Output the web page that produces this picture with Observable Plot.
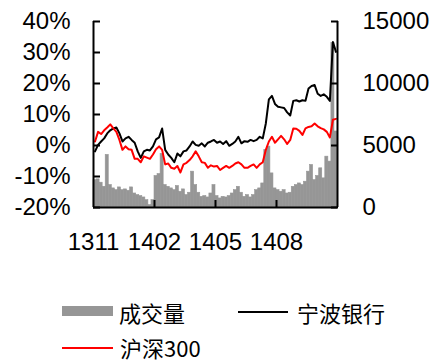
<!DOCTYPE html>
<html><head><meta charset="utf-8">
<script src="https://cdn.jsdelivr.net/npm/d3@7"></script>
<script src="https://cdn.jsdelivr.net/npm/@observablehq/plot@0.6"></script>
<style>
body{margin:0;background:#fff;}
#wrap{position:relative;width:430px;height:362px;}
.leg{position:absolute;font-family:"Noto Sans CJK SC","Noto Sans",sans-serif;font-size:22px;line-height:22px;color:#000;white-space:nowrap;}
.sw{position:absolute;}
</style></head><body><div id="wrap"></div>
<script>
// 宁波银行 relative change (%)
const bank = [-1.9,0.2,1.3,2.3,3.9,4.9,5.5,5.8,3.9,1.3,2.3,2.8,1.8,0.9,-1.9,-4.0,-1.9,-1.4,-1.6,-0.3,
2.0,2.6,5.5,-1.4,-2.9,-4.0,-5.4,-2.6,-3.5,-1.9,-1.6,-0.3,1.3,0.2,-0.1,0.7,-0.3,0.9,1.3,1.8,
0.9,1.3,0.5,1.4,-0.1,0.5,1.3,2.8,0.7,1.4,1.2,1.8,1.4,1.8,2.8,2.3,7.1,14.9,16.0,13.4,
12.5,12.3,12.1,10.7,9.7,14.4,14.6,14.2,14.6,14.4,18.4,19.2,19.5,16.7,16.0,16.5,15.7,14.4,33.4,30.2];
// 沪深300 relative change (%)
const hs300 = [1.3,4.4,3.7,4.9,5.8,6.8,5.5,4.4,1.8,-1.4,-0.3,-1.2,-1.4,-4.3,-4.3,-5.4,-3.5,-3.9,-4.3,-2.9,
-1.2,-0.3,-1.4,-6.1,-5.8,-7.2,-7.5,-6.6,-8.7,-6.1,-5.6,-4.7,-3.5,-1.9,-3.5,-5.4,-5.6,-7.2,-6.4,-6.8,
-6.6,-7.9,-7.2,-6.6,-7.2,-6.6,-5.8,-5.4,-6.1,-7.2,-7.2,-6.6,-6.1,-7.2,-6.1,-5.4,-1.4,1.3,2.8,0.9,
2.0,3.1,2.0,0.5,1.8,5.5,5.4,4.7,3.4,5.5,6.0,6.2,7.1,6.2,5.6,5.2,4.4,2.6,8.3,8.6];
// 成交量 (right axis)
const volume = [2200,2270,2000,1670,4240,1810,1540,1400,1620,1400,1460,1350,1620,1130,1000,920,810,590,190,590,
2540,2700,4320,1810,1670,1540,1400,1730,1270,1460,1000,1190,2890,1810,1190,860,920,810,1130,1810,
920,730,860,810,920,1130,1400,1670,1190,860,1000,810,1000,1400,1540,1940,4640,4910,2750,1540,
1400,1270,1400,1130,1190,1670,1810,1940,1810,2080,2890,3430,2210,2540,3160,2350,4100,3700,13280,6130];
const tickIdx = [0,20,40,60];
const tickLabels = ["1311","1402","1405","1408"];
const pctTicks = [-20,-10,0,10,20,30,40];
const volTicks = [0,5000,10000,15000];
const seriesNames = ["成交量","宁波银行","沪深300"];

const N = bank.length;
const v2p = v => -20 + v / 15000 * 60;
const rows = d3.range(N).map(i => ({i, bank: bank[i], hs: hs300[i], vol: volume[i]}));
const font = '"Liberation Sans", Arial, sans-serif';

const chart = Plot.plot({
  width: 430, height: 265,
  marginTop: 21, marginBottom: 58, marginLeft: 93, marginRight: 93,
  style: {fontFamily: font, fontSize: "24px", color: "#000", background: "#fff", overflow: "visible"},
  x: {domain: [0, N], axis: null},
  y: {domain: [-20, 40], axis: null},
  marks: [
    Plot.rect(rows, {x1: "i", x2: d => d.i + 1, y1: () => -20, y2: d => v2p(d.vol), fill: "#969696", stroke: "#969696", strokeWidth: 0.6}),
    Plot.line(rows, {x: d => d.i + 0.5, y: "bank", stroke: "#000", strokeWidth: 2}),
    Plot.line(rows, {x: d => d.i + 0.5, y: "hs", stroke: "#ff0000", strokeWidth: 2}),
    Plot.ruleX([0, N], {stroke: "#000", strokeWidth: 2}),
    Plot.ruleY([-20], {stroke: "#000", strokeWidth: 2}),
    Plot.axisY(pctTicks, {anchor: "left", label: null, tickSize: -7, tickPadding: 30, strokeWidth: 2, tickFormat: d => d + "%", fontSize: 24}),
    Plot.axisY(volTicks.map(v2p), {anchor: "right", label: null, tickSize: -7, tickPadding: 32, strokeWidth: 2, tickFormat: d => String(Math.round((d + 20) * 250)), fontSize: 24}),
    Plot.axisX(tickIdx.slice(1), {anchor: "bottom", label: null, tickSize: -7, strokeWidth: 2, tickFormat: () => ""}),
    Plot.axisX(tickIdx, {anchor: "bottom", label: null, tickSize: 0, tickPadding: 25, tickFormat: d => tickLabels[tickIdx.indexOf(d)], fontSize: 24})
  ]
});

const wrap = document.getElementById("wrap");
wrap.appendChild(chart);

function addSw(left, top, w, h, color) {
  const e = document.createElement("div");
  e.className = "sw";
  Object.assign(e.style, {left: left + "px", top: top + "px", width: w + "px", height: h + "px", background: color});
  wrap.appendChild(e);
}
function addText(left, top, txt) {
  const e = document.createElement("div");
  e.className = "leg";
  e.style.left = left + "px"; e.style.top = top + "px";
  e.textContent = txt;
  wrap.appendChild(e);
}
addSw(62, 306, 51, 10, "#969696");
addText(119, 301, seriesNames[0]);
addSw(238, 311, 50, 2, "#000");
addText(297, 301, seriesNames[1]);
addSw(62, 347, 51, 2, "#ff0000");
addText(120, 336, seriesNames[2]);
</script></body></html>
